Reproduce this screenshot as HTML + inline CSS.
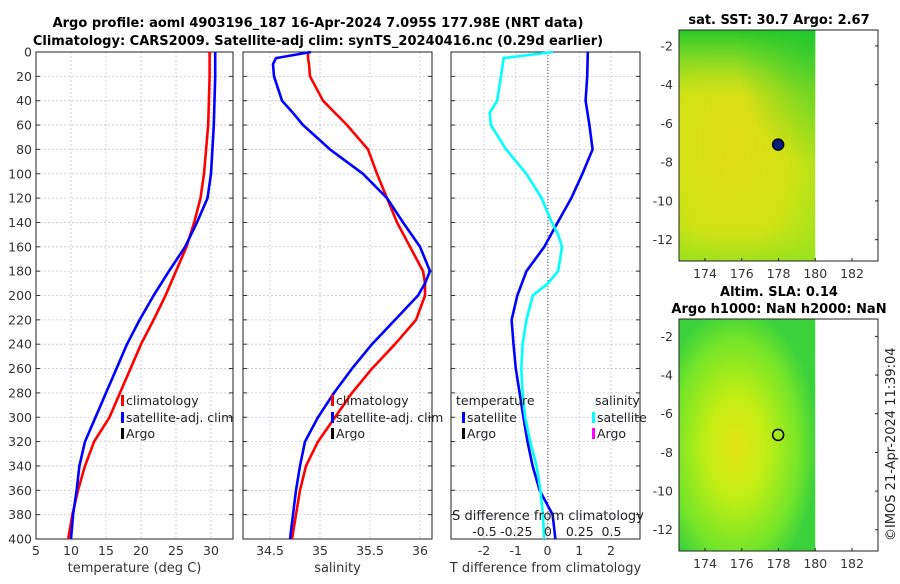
<!DOCTYPE html>
<html><head><meta charset="utf-8"><style>
body{margin:0;background:#fff;font-family:"DejaVu Sans",sans-serif;}
svg text{font-family:"DejaVu Sans","Liberation Sans",sans-serif;}
</style></head><body>
<svg id="c" width="900" height="580" xmlns="http://www.w3.org/2000/svg">
<defs>
<radialGradient id="sstg" cx="0.4" cy="0.5" r="0.7"><stop offset="0" stop-color="#e0dc18"/><stop offset="0.6" stop-color="#d2e214"/><stop offset="1" stop-color="#a8e41a"/></radialGradient>
<linearGradient id="sstTop" x1="0" y1="0" x2="0" y2="1"><stop offset="0" stop-color="#28c828"/><stop offset="0.12" stop-color="#70d828" stop-opacity="0.85"/><stop offset="0.3" stop-color="#b0e020" stop-opacity="0"/><stop offset="0.85" stop-color="#b0e020" stop-opacity="0"/><stop offset="1" stop-color="#90e020" stop-opacity="0.7"/></linearGradient>
<radialGradient id="sstCorner" cx="1" cy="0" r="0.6"><stop offset="0" stop-color="#20c830" stop-opacity="0.8"/><stop offset="1" stop-color="#20c830" stop-opacity="0"/></radialGradient>
<radialGradient id="slag" cx="0.42" cy="0.55" r="0.6"><stop offset="0" stop-color="#e4e414"/><stop offset="0.35" stop-color="#c4ee14"/><stop offset="0.75" stop-color="#78e628"/><stop offset="1" stop-color="#3cd23c"/></radialGradient>
</defs>
<text x="318" y="27" text-anchor="middle" font-size="13" font-weight="bold">Argo profile: aoml 4903196_187 16-Apr-2024 7.095S 177.98E (NRT data)</text>
<text x="318" y="45" text-anchor="middle" font-size="13" font-weight="bold">Climatology: CARS2009. Satellite-adj clim: synTS_20240416.nc (0.29d earlier)</text>
<g id="g"></g>
<text transform="translate(895,541) rotate(-90)" font-size="13" fill="#222">©IMOS 21-Apr-2024 11:39:04</text>
</svg>
<script>
const depths=[0,20,40,60,80,100,120,140,160,180,200,220,240,260,280,300,320,340,360,380,400];
const tempClim=[29.8,29.8,29.7,29.6,29.3,29.0,28.5,27.6,26.5,25.0,23.5,21.8,20.0,18.5,17.0,15.5,13.3,12.0,11.0,10.2,9.6];
const tempSat=[30.6,30.6,30.5,30.4,30.2,30.0,29.5,28.0,26.3,24.0,21.8,19.8,18.0,16.5,15.0,13.5,12.0,11.2,10.8,10.3,10.0];
const salDepths=[0,5,10,20,40,50,60,80,100,120,140,160,180,190,200,220,240,260,280,300,320,340,360,380,400];
const salClim=[34.88,34.88,34.89,34.9,35.03,35.15,35.27,35.48,35.57,35.67,35.77,35.9,36.03,36.05,36.05,35.96,35.75,35.52,35.32,35.15,34.98,34.86,34.8,34.76,34.72];
const salSat=[34.91,34.56,34.53,34.54,34.62,34.73,34.83,35.1,35.43,35.67,35.83,36.0,36.1,36.05,35.98,35.75,35.52,35.32,35.14,34.98,34.85,34.8,34.76,34.73,34.7];
const tDiff=[1.27,1.25,1.2,1.32,1.42,1.1,0.75,0.32,-0.1,-0.66,-0.95,-1.13,-1.07,-1.0,-0.88,-0.76,-0.63,-0.47,-0.25,0.16,0.25];
const sDiffDepths=[0,5,20,40,50,60,80,100,120,140,150,160,180,190,200,220,240,260,280,300,320,340,360,380,400];
const sDiff=[0.04,-0.35,-0.37,-0.4,-0.46,-0.45,-0.33,-0.17,-0.05,0.03,0.08,0.11,0.08,0,-0.12,-0.17,-0.2,-0.21,-0.2,-0.18,-0.14,-0.09,-0.06,-0.04,-0.03];
const depthTicks=[0,20,40,60,80,100,120,140,160,180,200,220,240,260,280,300,320,340,360,380,400];
const tTicks=[5,10,15,20,25,30];
const sTicks=[34.5,35,35.5,36];
const dTicks=[-2,-1,0,1,2];
const sdTicks=[-0.5,-0.25,0,0.25,0.5];
const sdLabels=['-0.5','-0.25','0','0.25','0.5'];
const mapLonTicks=[174,176,178,180,182];
const mapLatTicks=[-2,-4,-6,-8,-10,-12];

const NS='http://www.w3.org/2000/svg';
const G=document.getElementById('g');
function el(t,a,p){const e=document.createElementNS(NS,t);for(const k in a)e.setAttribute(k,a[k]);(p||G).appendChild(e);return e;}
const Y0=52,Y1=539;
const yD=d=>Y0+(d/400)*(Y1-Y0);
function lin(d0,d1,r0,r1){return v=>r0+(v-d0)/(d1-d0)*(r1-r0);}
const FS=12.5;
const panels=[{x0:36,x1:233,sc:lin(5,30,36,211),ticks:tTicks,lab:'temperature (deg C)',name:'temperature-panel'},
{x0:243,x1:432,sc:lin(34.5,36,270,420),ticks:sTicks,lab:'salinity',name:'salinity-panel'},
{x0:451,x1:640,sc:lin(-2,2,484,611),ticks:dTicks,lab:'T difference from climatology',name:'difference-panel'}];
panels.forEach((p,i)=>{
 const g=el('g',{});
 
 
 depthTicks.forEach(d=>{el('line',{x1:p.x0,x2:p.x1,y1:yD(d),y2:yD(d),stroke:'#c8c8dc','stroke-dasharray':'2,2','stroke-width':0.8},g);
  if(i==0){const t=el('text',{x:p.x0-4,y:yD(d)+4.5,'text-anchor':'end','font-size':FS,fill:'#333'},g);t.textContent=d;}
  el('line',{x1:p.x0,x2:p.x0+4,y1:yD(d),y2:yD(d),stroke:'#333'},g);el('line',{x1:p.x1,x2:p.x1-4,y1:yD(d),y2:yD(d),stroke:'#333'},g);});
 p.ticks.forEach(v=>{const x=p.sc(v);el('line',{x1:x,x2:x,y1:Y0,y2:Y1,stroke:'#c8c8dc','stroke-dasharray':'2,2','stroke-width':0.8},g);
  const t=el('text',{x:x,y:555,'text-anchor':'middle','font-size':FS,fill:'#333'},g);t.textContent=v;});
 el('rect',{x:p.x0,y:Y0,width:p.x1-p.x0,height:Y1-Y0,fill:'none',stroke:'#222'},g);
 const t=el('text',{x:(p.x0+p.x1)/2,y:572,'text-anchor':'middle','font-size':13,fill:'#333'},g);t.textContent=p.lab;
});
function line(xs,ds,sc,col,name){const pts=xs.map((v,i)=>sc(v).toFixed(1)+','+yD(ds[i]).toFixed(1)).join(' ');
 const e=el('polyline',{points:pts,fill:'none',stroke:col,'stroke-width':2.6,'stroke-linejoin':'round'});
 
 }
line(tempClim,depths,panels[0].sc,'#f00','temp-climatology-line');
line(tempSat,depths,panels[0].sc,'#00f','temp-satellite-line');
line(salClim,salDepths,panels[1].sc,'#f00','sal-climatology-line');
line(salSat,salDepths,panels[1].sc,'#00f','sal-satellite-line');
const sdSc=lin(-0.5,0.5,484.5,611.5);
el('line',{x1:548,x2:548,y1:Y0,y2:Y1,stroke:'#555','stroke-dasharray':'1,2'});
line(tDiff,depths,panels[2].sc,'#00f','t-diff-satellite-line');
line(sDiff,sDiffDepths,sdSc,'#0ff','s-diff-satellite-line');
const st=el('text',{x:548,y:520,'text-anchor':'middle','font-size':13,fill:'#222'});st.textContent='S difference from climatology';
sdTicks.forEach((v,i)=>{const t=el('text',{x:sdSc(v),y:536,'text-anchor':'middle','font-size':FS,fill:'#222'});t.textContent=sdLabels[i];});
function leg(x,y,col,txt,name){const g=el('g',{});
 if(col)el('rect',{x:x,y:y-10,width:3,height:11,fill:col},g);
 const t=el('text',{x:x+(col?5:0),y:y,'font-size':12.5,fill:'#222'},g);t.textContent=txt;}
leg(121,405,'#f00','climatology','legend-climatology');leg(121,422,'#00f','satellite-adj. clim','legend-satellite');leg(121,438,'#000','Argo','legend-argo');
leg(331,405,'#f00','climatology','legend-sal-climatology');leg(331,422,'#00f','satellite-adj. clim','legend-sal-satellite');leg(331,438,'#000','Argo','legend-sal-argo');
leg(456,405,null,'temperature','legend-temp-header');leg(462,422,'#00f','satellite','legend-t-satellite');leg(462,438,'#000','Argo','legend-t-argo');
leg(595,405,null,'salinity','legend-sal-header');leg(592,422,'#0ff','satellite','legend-s-satellite');leg(592,438,'#f0f','Argo','legend-s-argo');
function map(y0,y1,latTop,latBot,fill,title,name,filled){
 const g=el('g',{});
 const lon=lin(174,182,705,852);
 const ly=v=>y0+(latTop-v)/(latTop-latBot)*(y1-y0);
 el('rect',{x:679,y:y0,width:lon(180)-679,height:y1-y0,fill:fill},g);
 if(filled){el('rect',{x:679,y:y0,width:lon(180)-679,height:y1-y0,fill:'url(#sstTop)'},g);
  el('rect',{x:679,y:y0,width:lon(180)-679,height:y1-y0,fill:'url(#sstCorner)'},g);}
 el('rect',{x:679,y:y0,width:878-679,height:y1-y0,fill:'none',stroke:'#222'},g);
 mapLonTicks.forEach(v=>{el('line',{x1:lon(v),x2:lon(v),y1:y1,y2:y1-3,stroke:'#222'},g);const t=el('text',{x:lon(v),y:y1+17,'text-anchor':'middle','font-size':FS,fill:'#333'},g);t.textContent=v;});
 mapLatTicks.forEach(v=>{el('line',{x1:878,x2:875,y1:ly(v),y2:ly(v),stroke:'#222'},g);const t=el('text',{x:673,y:ly(v)+4.5,'text-anchor':'end','font-size':FS,fill:'#333'},g);t.textContent=v;});
 const c=el('circle',{cx:lon(177.98),cy:ly(-7.095),r:5.5,fill:filled?'#002080':'none',stroke:'#000','stroke-width':1.5},g);
 
 title.forEach((s,i)=>{const t=el('text',{x:779,y:y0-(title.length-1-i)*17-6,'text-anchor':'middle','font-size':13,'font-weight':'bold'},g);t.textContent=s;});
}
map(30,261,-1.18,-13.1,'url(#sstg)',['sat. SST: 30.7 Argo: 2.67'],'sst-map',true);
map(319,551,-1.1,-13.1,'url(#slag)',['Altim. SLA: 0.14','Argo h1000: NaN h2000: NaN'],'sla-map',false);
</script>
</body></html>
